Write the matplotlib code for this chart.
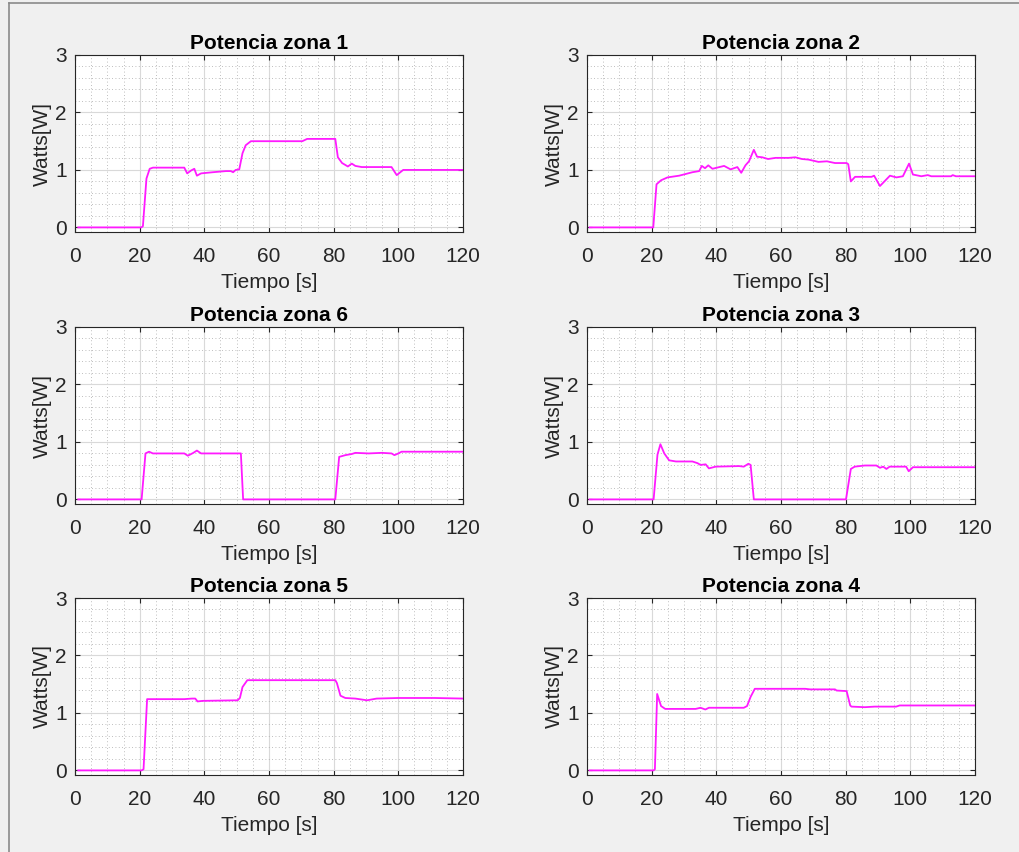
import matplotlib
matplotlib.use("Agg")
import matplotlib.pyplot as plt
from matplotlib.lines import Line2D
from matplotlib.ticker import MultipleLocator

plt.rcParams["font.family"] = ["Liberation Sans", "DejaVu Sans"]

# --- data (time [s], power [W]) ---
t_z1 = [1, 20.5, 21.0, 22.1, 23.1, 24.1, 33.8, 34.7, 35.9, 36.9, 37.7, 39.0, 42.6, 46.7, 48.2, 48.9,
        49.7, 50.8, 51.8, 52.8, 54.4, 70.3, 71.8, 80.5, 81.3, 82.6, 84.4, 85.6, 86.7, 88.7, 97.9,
        99.5, 101.5, 120]
w_z1 = [0, 0, 0.02, 0.85, 1.02, 1.04, 1.04, 0.94, 0.99, 1.02, 0.90, 0.94, 0.96, 0.98, 0.98, 0.96,
        1.00, 1.01, 1.29, 1.43, 1.50, 1.50, 1.54, 1.54, 1.22, 1.12, 1.06, 1.11, 1.07, 1.05, 1.05,
        0.91, 1.00, 1.00]

t_z2 = [0.8, 20.5, 21.5, 22.9, 24.9, 28.5, 32.6, 34.7, 35.5, 36.5, 37.5, 38.8, 42.4, 44.4, 46.5,
        47.7, 49.0, 50.1, 51.6, 52.6, 54.2, 56.0, 58.3, 62.4, 64.4, 66.5, 68.5, 71.6, 74.2, 76.7,
        80.3, 80.8, 81.6, 82.9, 88.0, 88.8, 90.6, 93.7, 95.7, 97.7, 99.6, 100.8, 103.4, 105.4,
        106.5, 112.6, 113.1, 114.1, 120]
w_z2 = [0, 0, 0.75, 0.82, 0.87, 0.90, 0.96, 0.98, 1.07, 1.03, 1.08, 1.02, 1.07, 1.01, 1.05,
        0.95, 1.08, 1.15, 1.35, 1.23, 1.22, 1.19, 1.21, 1.21, 1.22, 1.19, 1.18, 1.14, 1.15, 1.12,
        1.12, 1.10, 0.80, 0.88, 0.88, 0.90, 0.72, 0.90, 0.87, 0.89, 1.11, 0.92, 0.89, 0.91,
        0.89, 0.89, 0.91, 0.89, 0.89]

t_z6 = [1, 20.6, 21.8, 22.9, 24.1, 33.8, 34.9, 36.6, 37.7, 39.0, 50.8, 51.3, 52.0, 80.5, 81.7,
        83.6, 85.6, 86.7, 90.8, 94.9, 97.9, 98.8, 100.0, 101.0, 120]
w_z6 = [0, 0, 0.80, 0.83, 0.80, 0.80, 0.76, 0.81, 0.85, 0.80, 0.80, 0.80, 0, 0, 0.74,
        0.77, 0.79, 0.81, 0.80, 0.81, 0.80, 0.77, 0.80, 0.83, 0.83]

t_z3 = [0.8, 20.6, 21.8, 22.7, 23.9, 25.4, 27.5, 32.6, 34.2, 35.1, 36.7, 37.7, 39.8, 47.0, 48.5,
        49.9, 50.6, 51.6, 80.1, 81.6, 82.8, 85.9, 89.5, 90.6, 91.6, 92.6, 93.6, 98.7, 99.5,
        100.8, 120]
w_z3 = [0, 0, 0.78, 0.96, 0.80, 0.68, 0.66, 0.66, 0.63, 0.60, 0.61, 0.54, 0.57, 0.58, 0.57,
        0.62, 0.60, 0, 0, 0.53, 0.57, 0.59, 0.59, 0.55, 0.57, 0.53, 0.57, 0.57, 0.49,
        0.56, 0.56]

t_z5 = [1, 20.6, 21.2, 22.3, 33.8, 36.2, 37.2, 37.9, 39.5, 50.3, 51.0, 51.8, 53.3, 80.5, 81.0,
        82.1, 83.6, 86.7, 90.3, 93.3, 100.0, 111.3, 120]
w_z5 = [0, 0, 0.02, 1.24, 1.24, 1.25, 1.25, 1.20, 1.21, 1.22, 1.26, 1.45, 1.57, 1.57, 1.52,
        1.30, 1.26, 1.25, 1.22, 1.25, 1.26, 1.26, 1.25]

t_z4 = [0.8, 20.6, 21.0, 21.7, 22.9, 24.2, 33.6, 35.1, 36.6, 37.7, 48.5, 49.5, 50.6, 51.9, 67.5,
        69.0, 76.7, 77.2, 80.3, 81.4, 81.8, 85.9, 89.0, 95.6, 96.7, 120]
w_z4 = [0, 0, 0.02, 1.33, 1.12, 1.07, 1.07, 1.09, 1.06, 1.09, 1.09, 1.12, 1.28, 1.42, 1.42,
        1.41, 1.41, 1.39, 1.38, 1.13, 1.11, 1.10, 1.11, 1.11, 1.13, 1.13]

panels = [("Potencia zona 1", t_z1, w_z1), ("Potencia zona 2", t_z2, w_z2),
          ("Potencia zona 6", t_z6, w_z6), ("Potencia zona 3", t_z3, w_z3),
          ("Potencia zona 5", t_z5, w_z5), ("Potencia zona 4", t_z4, w_z4)]

W, H = 1020, 852
fig = plt.figure(figsize=(W / 100, H / 100), dpi=100, facecolor="#f0f0f0")

lefts = [75, 587]
tops = [55, 327, 598]
aw, ah = 388, 177
txt = "#262626"

for i, (title, t, w) in enumerate(panels):
    r, c = divmod(i, 2)
    ax = fig.add_axes([lefts[c] / W, 1 - (tops[r] + ah) / H, aw / W, ah / H])
    ax.set_facecolor("white")
    ax.plot(t, w, color="#ff1aff", lw=1.3)
    ax.set_xlim(0, 120)
    ax.set_ylim(-0.08, 3)
    ax.xaxis.set_major_locator(MultipleLocator(20))
    ax.xaxis.set_minor_locator(MultipleLocator(5))
    ax.yaxis.set_major_locator(MultipleLocator(1))
    ax.yaxis.set_minor_locator(MultipleLocator(0.2))
    ax.grid(True, which="major", color="#d9d9d9", lw=0.8, ls="-")
    ax.grid(True, which="minor", color="#a8a8a8", lw=0.6, ls=(0, (1, 3)))
    ax.set_axisbelow(True)
    ax.tick_params(which="major", direction="in", length=3.5, width=0.8, top=True, right=True,
                   labelsize=15, colors=txt)
    ax.tick_params(which="minor", length=0, top=True, right=True)
    ax.tick_params(axis="x", pad=11)
    ax.tick_params(axis="y", pad=6)
    for s in ax.spines.values():
        s.set_color(txt)
        s.set_linewidth(0.8)
    ax.set_title(title, fontsize=15, fontweight="bold", color="black", pad=4)
    ax.set_xlabel("Tiempo [s]", fontsize=15, color=txt, labelpad=5)
    ax.set_ylabel("Watts[W]", fontsize=15, color=txt, labelpad=2)

# window frame (left and top edges)
fig.add_artist(Line2D([9 / W, 9 / W], [0, 1 - 3 / H], color="#8a8a8a", lw=1.2))
fig.add_artist(Line2D([9 / W, 1], [1 - 3 / H, 1 - 3 / H], color="#8a8a8a", lw=1.2))

fig.savefig("out.png", dpi=100, facecolor=fig.get_facecolor())
